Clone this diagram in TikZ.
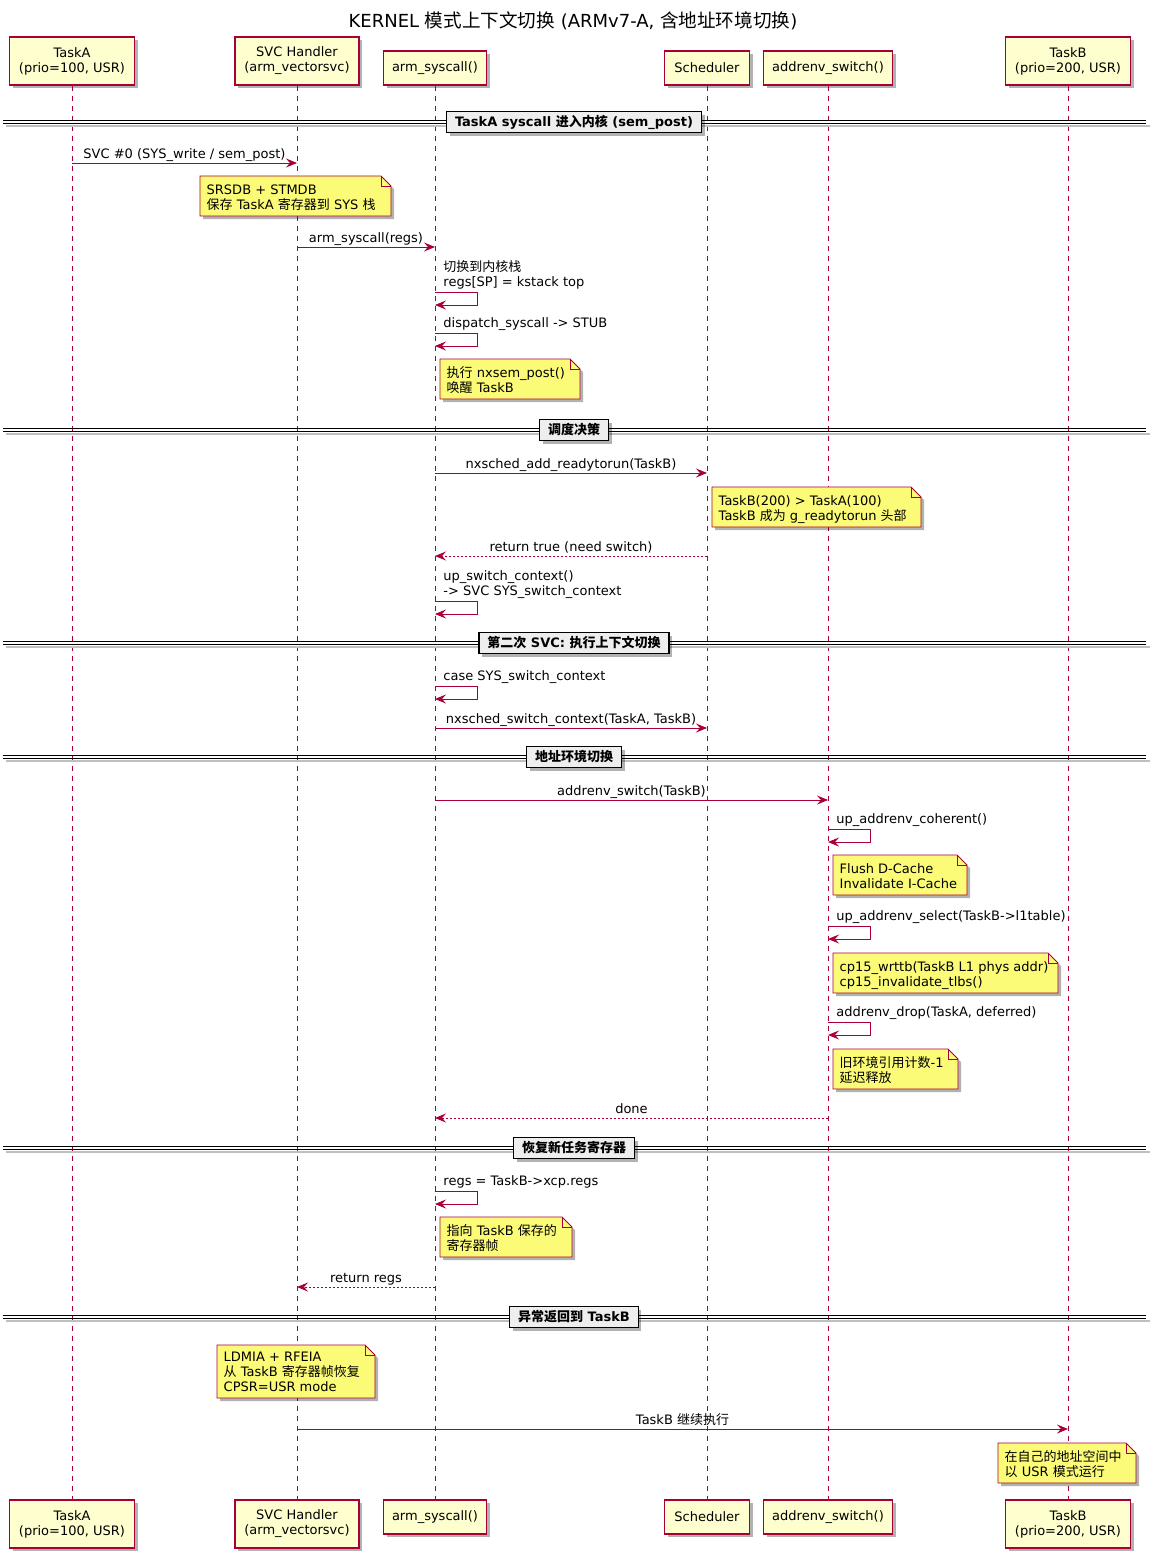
\documentclass[tikz,border=0pt]{standalone}
\usepackage{fontspec}
\setmainfont{DejaVu Sans}
\newfontfamily\cjk{Noto Sans CJK SC}
\usetikzlibrary{arrows.meta,shadows}
\definecolor{pline}{HTML}{A80036}
\definecolor{pfill}{HTML}{FEFECE}
\definecolor{nfill}{HTML}{FBFB77}
\definecolor{dfill}{HTML}{EEEEEE}
\newcommand\zh[1]{{\cjk #1}}
\newcommand\zhT[1]{{\fontsize{18.6}{22}\selectfont\cjk #1}}
\tikzset{
  shad/.style={drop shadow={shadow xshift=3pt, shadow yshift=-3pt, opacity=0.3, fill=black}},
  lbl/.style={font=\fontsize{13}{15}\selectfont, inner sep=0pt, align=left},
  part/.style={draw=pline, line width=1.2pt, fill=pfill, font=\fontsize{13}{15}\selectfont, align=center, inner sep=0pt, shad},
  life/.style={draw=pline, line width=0.8pt, dash pattern=on 5pt off 5pt},
  msg/.style={draw=pline, line width=0.9pt, -{Stealth[length=11pt,width=9pt,inset=4pt]}},
  ret/.style={msg, dash pattern=on 2pt off 2pt},
  notebox/.style={draw=pline, line width=0.9pt, fill=nfill, shad},
  divbox/.style={draw=black, line width=1.5pt, fill=dfill, font=\bfseries\fontsize{13}{15}\selectfont, inner xsep=8.5pt, inner ysep=0pt, minimum height=21pt, shad},
}
\newcommand\msgline[5]{\draw[#1] (#2 |- 0,#4) -- node[lbl, anchor=base, yshift=5pt]{#5} (#3 |- 0,#4);}
\newcommand\selfmsg[3]{\draw[msg] (#1 |- 0,#2) node[lbl, anchor=base west, xshift=8pt, yshift=6pt]{#3} -- ++(42,0) -- ++(0,13) -- (#1 |- 0,#2+13);}
\newcommand\notep[6]{%
  \draw[notebox] (#2,#3) -- (#4-10,#3) -- (#4,#3+10) -- (#4,#5) -- (#2,#5) -- cycle;
  \draw[draw=pline, line width=0.9pt] (#4-10,#3) -- (#4-10,#3+10) -- (#4,#3+10);
  \node[lbl, anchor=base west] (#1) at (#2+6.5,#5-6.5) {#6};}
\newcommand\divline[3]{%
  \fill[black!25] (6,#2+3.2) rectangle (1150,#2+5.2);
  \draw[line width=0.9pt] (3,#2-1.6) -- (1146,#2-1.6) (3,#2+1.6) -- (1146,#2+1.6);
  \node[divbox] (#1) at (574,#2) {#3};}
\begin{document}
\begin{tikzpicture}[x=1pt,y=-1pt]
\useasboundingbox[fill=white] (0,0) rectangle (1156,1556);
\node (title) at (573,21) {\fontsize{18}{22}\selectfont KERNEL \zhT{模式上下文切换} (ARMv7-A, \zhT{含地址环境切换})};
% bottom participants
\node[part, minimum width=125pt, minimum height=48pt] (pA2) at (72,1524) {TaskA\\(prio=100, USR)};
\node[part, minimum width=124pt, minimum height=48pt] (pS2) at (297,1524) {SVC Handler\\(arm\_vectorsvc)};
\node[part, minimum width=103pt, minimum height=34pt] (pR2) at (435,1517) {arm\_syscall()};
\node[part, minimum width=85pt, minimum height=34pt] (pC2) at (707,1517) {Scheduler};
\node[part, minimum width=129pt, minimum height=34pt] (pE2) at (828,1517) {addrenv\_switch()};
\node[part, minimum width=125pt, minimum height=48pt] (pB2) at (1068,1524) {TaskB\\(prio=200, USR)};
% top participants
\node[part, minimum width=125pt, minimum height=48pt] (pA) at (72,61) {TaskA\\(prio=100, USR)};
\node[part, minimum width=124pt, minimum height=48pt] (pS) at (297,61) {SVC Handler\\(arm\_vectorsvc)};
\node[part, minimum width=103pt, minimum height=34pt] (pR) at (435,68) {arm\_syscall()};
\node[part, minimum width=85pt, minimum height=34pt] (pC) at (707,68) {Scheduler};
\node[part, minimum width=129pt, minimum height=34pt] (pE) at (828,68) {addrenv\_switch()};
\node[part, minimum width=125pt, minimum height=48pt] (pB) at (1068,61) {TaskB\\(prio=200, USR)};
% lifelines
\foreach \p in {pA,pS,pR,pC,pE,pB}{\draw[life] (\p.south) -- (\p2.north);}
% sequence
\divline{d1}{122}{TaskA syscall \zh{进入内核} (sem\_post)}
\msgline{msg}{pA}{pS}{163}{SVC \#0 (SYS\_write / sem\_post)}
\notep{n1}{200}{176}{391}{216}{SRSDB + STMDB\\\zh{保存} TaskA \zh{寄存器到} SYS \zh{栈}}
\msgline{msg}{pS}{pR}{247}{arm\_syscall(regs)}
\selfmsg{pR}{292}{\zh{切换到内核栈}\\regs[SP] = kstack top}
\selfmsg{pR}{333}{dispatch\_syscall -> STUB}
\notep{n2}{440}{359}{580}{399}{\zh{执行} nxsem\_post()\\\zh{唤醒} TaskB}
\divline{d2}{430}{\zh{调度决策}}
\msgline{msg}{pR}{pC}{473}{nxsched\_add\_readytorun(TaskB)}
\notep{n3}{712}{487}{921}{527}{TaskB(200) > TaskA(100)\\TaskB \zh{成为} g\_readytorun \zh{头部}}
\msgline{ret}{pC}{pR}{556}{return true (need switch)}
\selfmsg{pR}{601}{up\_switch\_context()\\-> SVC SYS\_switch\_context}
\divline{d3}{643}{\zh{第二次} SVC: \zh{执行上下文切换}}
\selfmsg{pR}{686}{case SYS\_switch\_context}
\msgline{msg}{pR}{pC}{728}{nxsched\_switch\_context(TaskA, TaskB)}
\divline{d4}{757}{\zh{地址环境切换}}
\msgline{msg}{pR}{pE}{800}{addrenv\_switch(TaskB)}
\selfmsg{pE}{829}{up\_addrenv\_coherent()}
\notep{n4}{833}{855}{967}{895}{Flush D-Cache\\Invalidate I-Cache}
\selfmsg{pE}{926}{up\_addrenv\_select(TaskB->l1table)}
\notep{n5}{833}{953}{1058}{993}{cp15\_wrttb(TaskB L1 phys addr)\\cp15\_invalidate\_tlbs()}
\selfmsg{pE}{1022}{addrenv\_drop(TaskA, deferred)}
\notep{n6}{833}{1049}{958}{1089}{\zh{旧环境引用计数}-1\\\zh{延迟释放}}
\msgline{ret}{pE}{pR}{1118}{done}
\divline{d5}{1148}{\zh{恢复新任务寄存器}}
\selfmsg{pR}{1191}{regs = TaskB->xcp.regs}
\notep{n7}{440}{1217}{572}{1257}{\zh{指向} TaskB \zh{保存的}\\\zh{寄存器帧}}
\msgline{ret}{pR}{pS}{1287}{return regs}
\divline{d6}{1317}{\zh{异常返回到} TaskB}
\notep{n8}{217}{1345}{375}{1398}{LDMIA + RFEIA\\\zh{从} TaskB \zh{寄存器帧恢复}\\CPSR=USR mode}
\msgline{msg}{pS}{pB}{1429}{TaskB \zh{继续执行}}
\notep{n9}{998}{1443}{1136}{1483}{\zh{在自己的地址空间中}\\\zh{以} USR \zh{模式运行}}
\end{tikzpicture}
\end{document}
